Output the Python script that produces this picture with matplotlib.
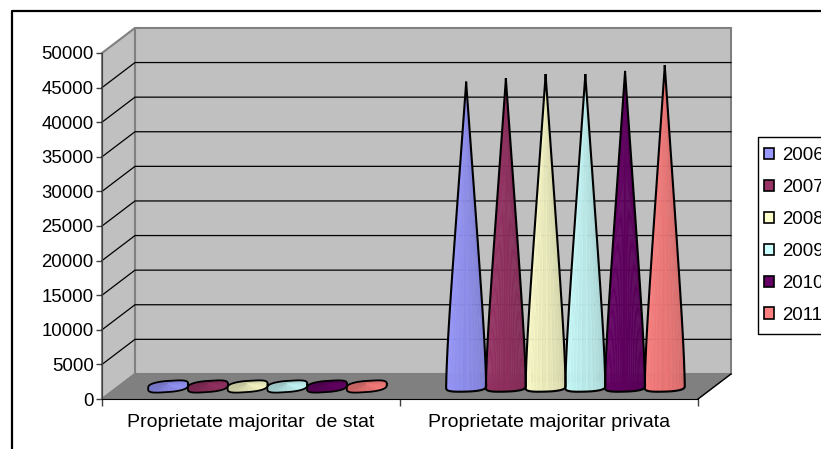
import numpy as np
import matplotlib
matplotlib.use("Agg")
import matplotlib.pyplot as plt
from matplotlib.legend_handler import HandlerPatch
from matplotlib.lines import Line2D
from matplotlib.patches import Patch, Rectangle
from matplotlib.colors import to_rgb

plt.rcParams["font.family"] = ["Liberation Sans", "DejaVu Sans"]

# values
categories = ["Proprietate majoritar  de stat", "Proprietate majoritar privata"]
years = ["2006", "2007", "2008", "2009", "2010", "2011"]
stat_values = [650, 650, 650, 650, 650, 650]
privat_values = [43900, 44400, 45000, 45000, 45450, 46300]
colors = ["#9999FF", "#993366", "#FFFFCC", "#CCFFFF", "#660066", "#FF8080"]
y_ticks = list(range(0, 50001, 5000))

W, H = 821, 449
fig = plt.figure(figsize=(W / 100, H / 100), dpi=100)
fig.patch.set_facecolor("white")
ax = fig.add_axes([102 / W, 1 - 399 / H, 596 / W, 346 / H])
ax.set_xlim(0, 2)
ax.set_ylim(0, 50000)
ax.patch.set_visible(False)

# depth of the fake 3d box, in data units
DX = 0.1107
DY = 3620


def poly(xs, ys, **kw):
    ax.fill(xs, ys, clip_on=False, **kw)


# walls and floor
poly([DX, 2 + DX, 2 + DX, DX], [DY, DY, 50000 + DY, 50000 + DY], fc="#C0C0C0", ec="#808080", lw=1.5, zorder=1)
poly([0, DX, DX, 0], [0, DY, 50000 + DY, 50000], fc="#C0C0C0", ec="#808080", lw=1.5, zorder=1)
poly([0, 2, 2 + DX, DX], [0, 0, DY, DY], fc="#808080", ec="#808080", lw=1, zorder=1)
ax.plot([2, 2 + DX], [0, DY], color="black", lw=1, clip_on=False, zorder=2)

# gridlines, round the corner
for v in y_ticks[1:-1]:
    ax.plot([0, DX, 2 + DX], [v, v + DY, v + DY], color="black", lw=0.9, clip_on=False, zorder=2)


def shade(c, f):
    c = np.array(to_rgb(c))
    if f > 1:
        return tuple(c + (1 - c) * (f - 1))
    return tuple(c * f)


def cone(cx, v, color):
    cy = DY * 0.5
    a = 0.0672
    tall = v > 1500
    b = 740 if tall else 800
    skew = 130 if tall else 300
    t = np.linspace(0, 2 * np.pi, 61)
    # blocky ellipse, the original base is not a clean one
    ex = cx + a * np.sign(np.cos(t)) * np.abs(np.cos(t)) ** 0.8
    ey = cy + b * np.sign(np.sin(t)) * np.abs(np.sin(t)) ** 0.6 + skew * np.cos(t)
    top = cy + v

    poly(ex, ey, fc=shade(color, 0.9), ec="none", zorder=3)
    if tall:
        # sides are slightly convex, straight cone looks too thin
        h = np.linspace(1, 0, 25)[:-1]
        g = (1 - h) * (1 + 0.11 * (1 - np.exp(-h / 0.15)))
        hy = cy + h * v
        i = np.arange(30, 61)
        n = len(i) - 1
        for k in range(n):
            f = 1.0 - 0.2 * k / n + (0.025 if k % 2 else 0)
            c = shade(color, f)
            p, q = i[k], i[k + 1]
            xs = np.r_[cx + g * (ex[p] - cx), ex[p], ex[q], cx + g[::-1] * (ex[q] - cx)]
            ys = np.r_[hy, ey[p], ey[q], hy[::-1]]
            poly(xs, ys, fc=c, ec=c, lw=0.3, zorder=3)
        out_x = np.r_[cx + g * (ex[30] - cx), ex[i], cx + g[::-1] * (ex[60] - cx)]
        out_y = np.r_[hy, ey[i], hy[::-1]]
        ax.plot(out_x, out_y, color="black", lw=1.5, clip_on=False, zorder=4, solid_joinstyle="round")
    else:
        for k in range(0, 60):
            f = 0.95 - 0.2 * abs(np.sin(t[k] / 2 + 0.3)) + (0.03 if k % 2 else 0)
            c = shade(color, f)
            poly([cx, ex[k], ex[k + 1]], [cy + 0.5 * b, ey[k], ey[k + 1]], fc=c, ec=c, lw=0.2, zorder=3)
        ax.plot(ex, ey, color="black", lw=1.3, clip_on=False, zorder=4)


bar_w = 0.1333
for g_i, vals in enumerate([stat_values, privat_values]):
    for i, v in enumerate(vals):
        cone(g_i + 0.1 + bar_w * (i + 0.5) + DX * 0.5, v, colors[i])

# axes
for s in ["top", "right"]:
    ax.spines[s].set_visible(False)
ax.spines["left"].set_color("#404040")
ax.spines["left"].set_zorder(5)
ax.spines["bottom"].set_color("black")
ax.spines["bottom"].set_zorder(5)
ax.set_yticks(y_ticks)
ax.set_xticks([0, 1, 2])
ax.set_xticklabels([])
ax.set_xticks([0.5, 1.5], categories, minor=True)
ax.tick_params(axis="y", labelsize=13.4, length=4, width=1, color="#404040", pad=2, labelcolor="black")
ax.tick_params(axis="x", which="major", length=5, width=1, color="#404040")
ax.tick_params(axis="x", which="minor", length=0, pad=11, labelsize=14, labelcolor="black")


# the swatches sit closer to the frame than the vertical padding allows
def swatch(legend, orig_handle, xdescent, ydescent, width, height, fontsize):
    return Rectangle((-xdescent - 3, -ydescent), width, height)


# legend runs off the right edge like in the original
handles = [Patch(fc=c, ec="black", lw=1.2) for c in colors]
leg = fig.legend(handles, years, loc="upper left", bbox_to_anchor=(758 / W, 1 - 137 / H),
                 bbox_transform=fig.transFigure, fontsize=13.4, frameon=True, fancybox=False,
                 edgecolor="black", facecolor="white", framealpha=1, handlelength=0.55,
                 handleheight=0.55, handletextpad=0.17, labelspacing=0.8, borderpad=0.55,
                 borderaxespad=0, handler_map={Patch: HandlerPatch(patch_func=swatch)})
leg.get_frame().set_linewidth(1)

# outer frame, only top and left are inside the picture
fig.add_artist(Line2D([12 / W, 12 / W, 1], [0, 1 - 11 / H, 1 - 11 / H], color="black", lw=1.6,
                      transform=fig.transFigure))

fig.savefig("out.png", dpi=100)
